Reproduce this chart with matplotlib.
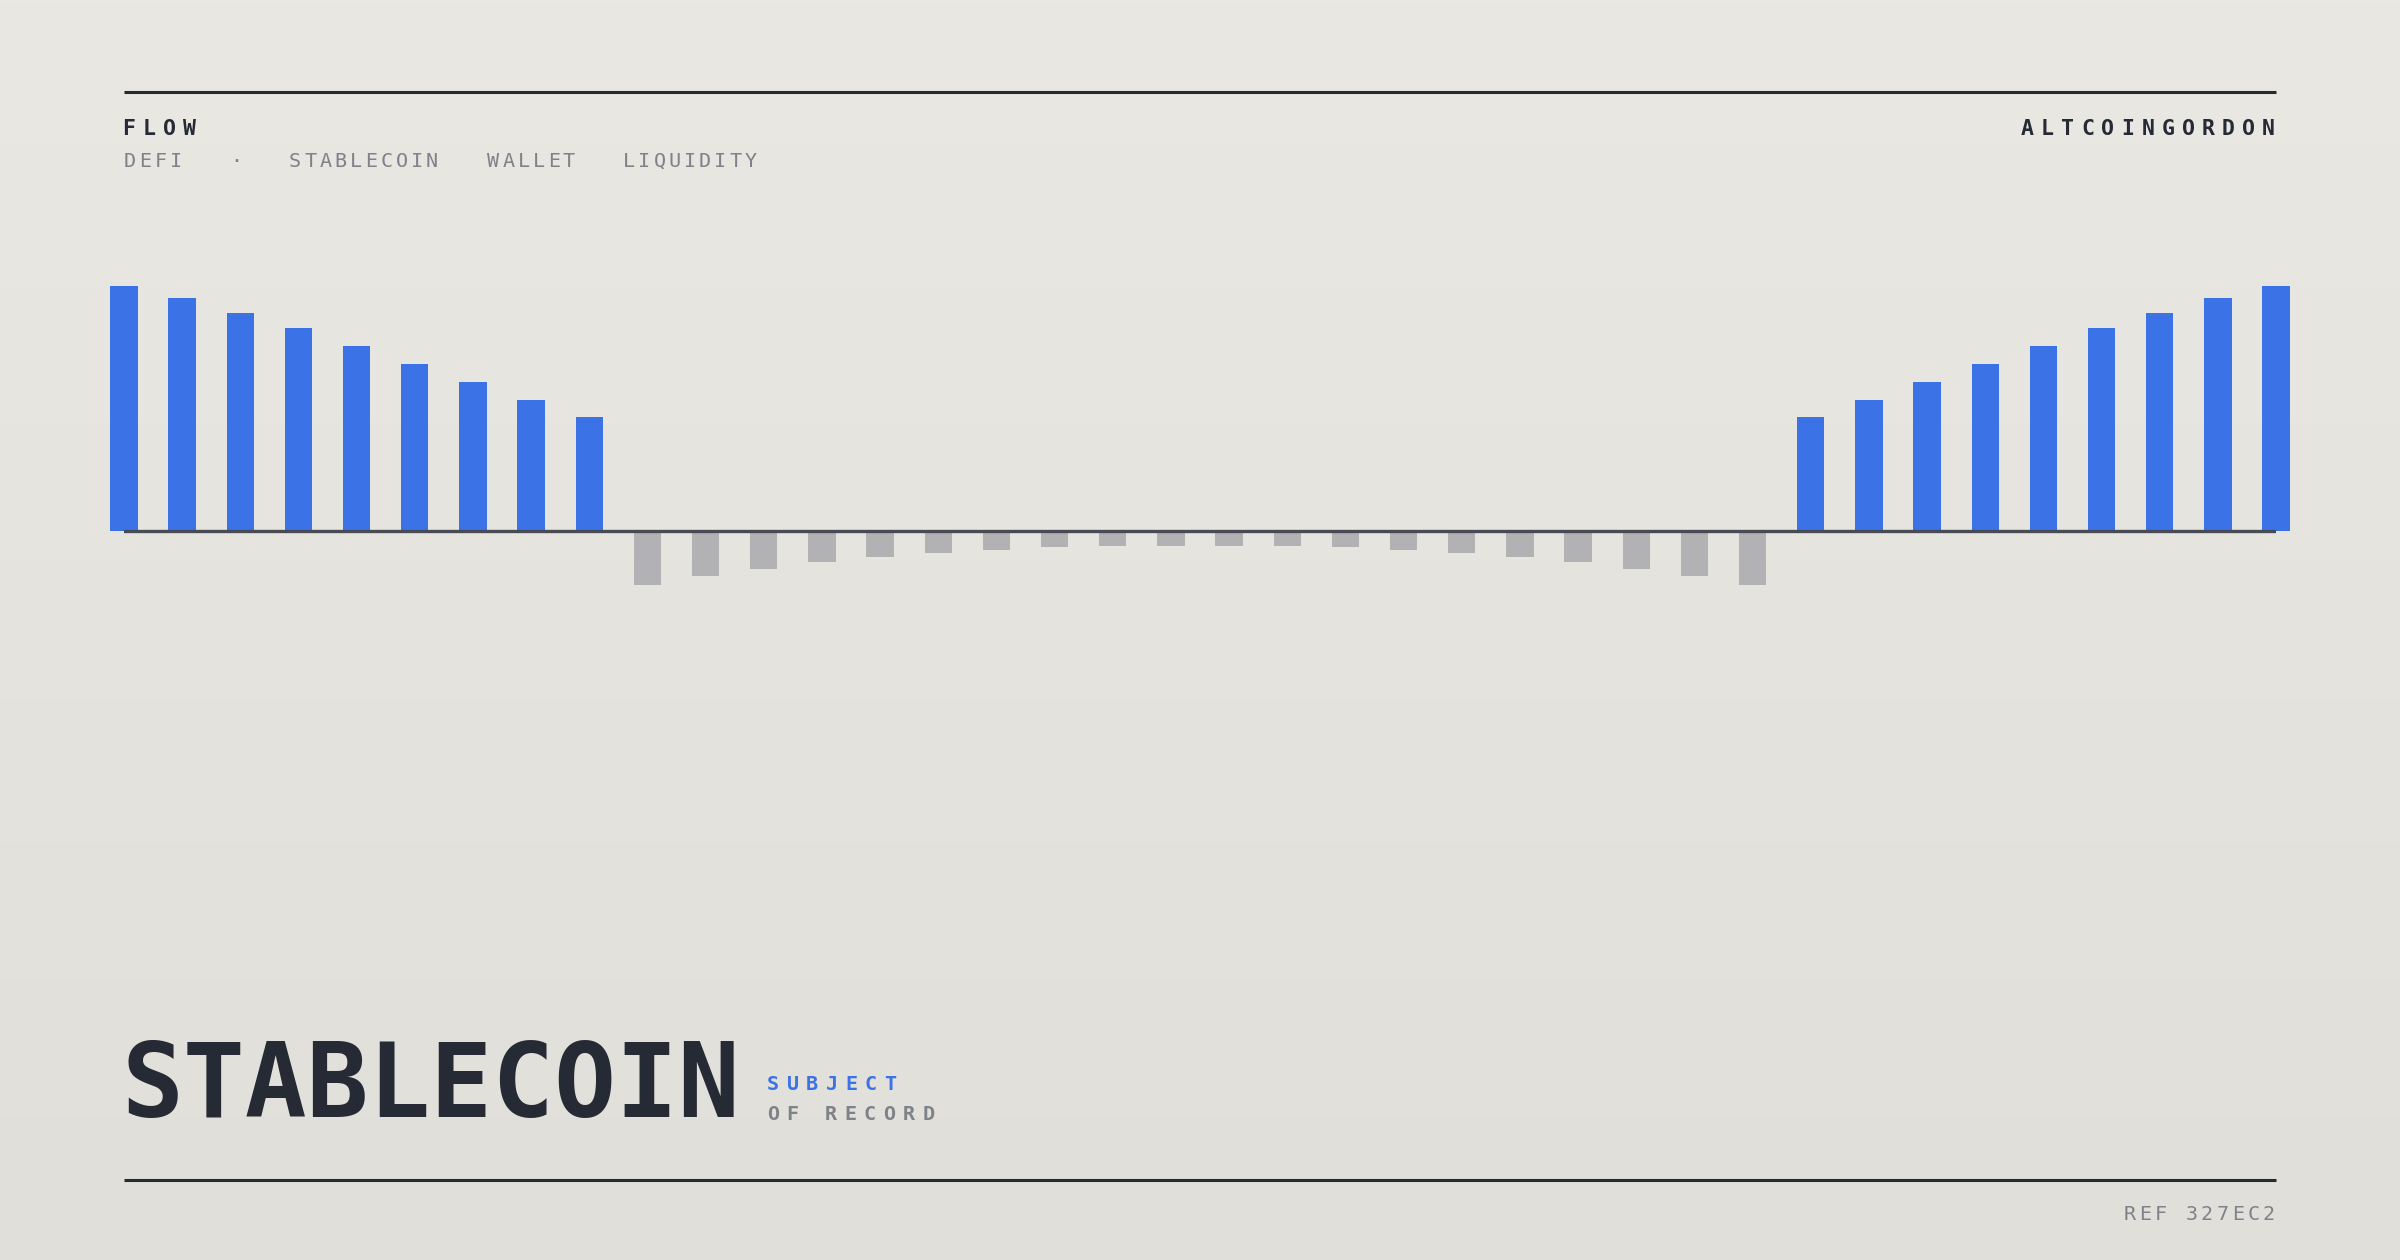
"""Stablecoin flow card: inflow / outflow bars with spaced mono labels"""
import matplotlib
matplotlib.use("Agg")
import matplotlib.pyplot as plt
import numpy as np
from matplotlib.lines import Line2D

W, H = 2400, 1260
MONO = "DejaVu Sans Mono"

INK = "#262a35"
GREY_TXT = "#80828a"
BLUE = "#3b73e6"
GREY_BAR = "#b2b2b4"

# flow per period, tallest inflow = 100
inflow_left = [100, 95, 89, 82.7, 75.4, 68.3, 61, 53.6, 46.4]
outflow = [-21.9, -18.4, -15.4, -12.7, -10.5, -8.9, -7.6, -6.7, -6.3, -6.0,
           -6.0, -6.3, -6.7, -7.6, -8.9, -10.6, -12.7, -15.4, -18.4, -21.9]
inflow_right = [46.4, 53.6, 61, 68.3, 75.4, 82.7, 89, 95, 100]

tags = ["DEFI", "·", "STABLECOIN", "WALLET", "LIQUIDITY"]
tag_x = [124, 230, 289, 487, 623]   # left edge of each tag, px

values = np.array(inflow_left + outflow + inflow_right, dtype=float)
colors = [BLUE if v > 0 else GREY_BAR for v in values]

fig = plt.figure(figsize=(W / 100, H / 100), dpi=100)

# background gradient
bg = fig.add_axes([0, 0, 1, 1], zorder=-10)
top = np.array([234, 232, 226]) / 255
bot = np.array([224, 223, 218]) / 255
t = np.linspace(0, 1, 256)[:, None]
grad = (top[None, :] * (1 - t) + bot[None, :] * t)[:, None, :]
bg.imshow(grad, aspect="auto", extent=[0, 1, 0, 1])
bg.set_axis_off()


def px(x, y):
    """pixel coords (from top-left) -> figure fraction"""
    return x / W, 1 - y / H


def spaced(x, y, text, size, pitch, color, weight="normal", align="left"):
    """draw text char by char with a fixed pitch (letter spacing)"""
    adv = 0.602 * size * 100 / 72
    if align == "right":
        x = x - (len(text) - 1) * pitch - adv
    for i, ch in enumerate(text):
        fig.text(*px(x + adv / 2 + i * pitch, y), ch, ha="center", va="baseline",
                 fontsize=size, color=color, fontweight=weight, family=MONO)


def hline(y, x0=124, x1=2276, color=INK, lw=2.2):
    fig.add_artist(Line2D([x0 / W, x1 / W], [1 - y / H, 1 - y / H], color=color,
                          lw=lw, solid_capstyle="butt"))


hline(92)
hline(1180)

spaced(122, 135, "FLOW", 15.5, 20.3, INK, weight="bold")
spaced(2275, 135, "ALTCOINGORDON", 15.5, 20.1, INK, weight="bold", align="right")
for tag, x in zip(tags, tag_x):
    spaced(x, 167, tag, 14.5, 15.2, GREY_TXT)

# bars
k = 2.45  # px per unit
base_y = 531
ax = fig.add_axes([124 / W, (H - 700) / H, (2276 - 124) / W, 450 / H])
ax.set_xlim(0, len(values) - 1)
ax.set_ylim((base_y - 700) / k, (base_y - 250) / k)
ax.bar(np.arange(len(values)), values, width=0.47, color=colors, clip_on=False, zorder=2)
ax.axhline(0, color="#484b54", lw=2.4, zorder=3)
ax.set_axis_off()

# title block
fig.text(*px(121, 1117), "STABLECOIN", fontsize=74, fontweight="bold", color=INK,
         family=MONO, ha="left", va="baseline")
spaced(767, 1090, "SUBJECT", 14.5, 19.6, BLUE, weight="bold")
spaced(767, 1120, "OF RECORD", 14.5, 19.4, GREY_TXT, weight="bold")

spaced(2275, 1220, "REF 327EC2", 14.5, 15.5, GREY_TXT, align="right")

fig.savefig("out.png", dpi=100)
